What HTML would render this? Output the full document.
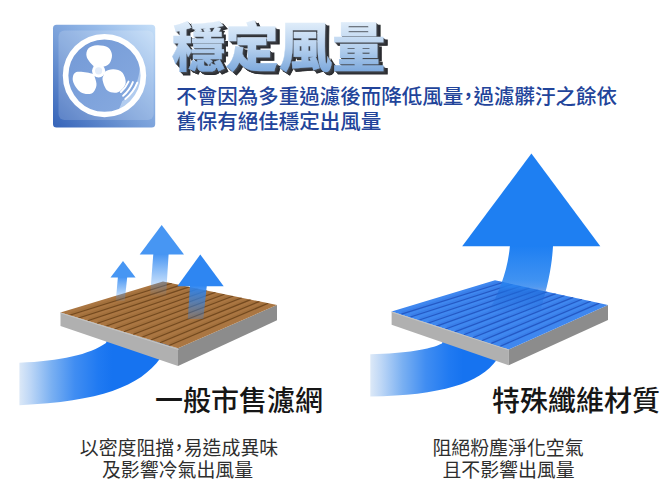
<!DOCTYPE html>
<html lang="zh-Hant">
<head>
<meta charset="utf-8">
<title>穩定風量</title>
<style>
html,body{margin:0;padding:0;background:#fff;}
body{width:670px;height:502px;overflow:hidden;position:relative;font-family:"Liberation Sans","Noto Sans CJK TC",sans-serif;}
svg{position:absolute;left:0;top:0;display:block;}
text{font-family:"Liberation Sans","Noto Sans CJK TC",sans-serif;}
.cm{font-family:"Liberation Sans","Noto Sans CJK JP",sans-serif;font-feature-settings:"halt" 1;}
</style>
</head>
<body>
<svg width="670" height="502" viewBox="0 0 670 502">
<defs>
  <linearGradient id="gIcon" x1="1" y1="0" x2="0" y2="1">
    <stop offset="0" stop-color="#c6dff8"/>
    <stop offset="0.3" stop-color="#96bae9"/>
    <stop offset="0.55" stop-color="#789fd9"/>
    <stop offset="1" stop-color="#3563b8"/>
  </linearGradient>
  <linearGradient id="gIconIn" x1="1" y1="0" x2="0" y2="1">
    <stop offset="0" stop-color="#cbe1f9"/>
    <stop offset="0.3" stop-color="#a5c4ee"/>
    <stop offset="0.6" stop-color="#8aaee3"/>
    <stop offset="1" stop-color="#6a93d6"/>
  </linearGradient>
  <linearGradient id="gDisc" x1="0" y1="0" x2="1" y2="1">
    <stop offset="0" stop-color="#7399d6"/>
    <stop offset="1" stop-color="#88abe0"/>
  </linearGradient>
  <linearGradient id="gTitle" x1="0" y1="0" x2="0" y2="1">
    <stop offset="0" stop-color="#e6f1fb"/>
    <stop offset="0.5" stop-color="#b5d0ee"/>
    <stop offset="1" stop-color="#6f9fd8"/>
  </linearGradient>
  <linearGradient id="gSwL" x1="19" y1="0" x2="112" y2="0" gradientUnits="userSpaceOnUse">
    <stop offset="0" stop-color="#dde9f7"/>
    <stop offset="0.12" stop-color="#bed7f6"/>
    <stop offset="0.35" stop-color="#7ab0f2"/>
    <stop offset="0.6" stop-color="#408df2"/>
    <stop offset="0.85" stop-color="#207af2"/>
    <stop offset="1" stop-color="#1673f0"/>
  </linearGradient>
  <linearGradient id="gSwR" x1="370" y1="0" x2="463" y2="0" gradientUnits="userSpaceOnUse">
    <stop offset="0" stop-color="#dde9f7"/>
    <stop offset="0.12" stop-color="#bed7f6"/>
    <stop offset="0.35" stop-color="#7ab0f2"/>
    <stop offset="0.6" stop-color="#408df2"/>
    <stop offset="0.85" stop-color="#207af2"/>
    <stop offset="1" stop-color="#1673f0"/>
  </linearGradient>
  <linearGradient id="gSh1" x1="0" y1="277" x2="0" y2="301" gradientUnits="userSpaceOnUse">
    <stop offset="0" stop-color="#3d8ff2" stop-opacity="0.95"/>
    <stop offset="0.6" stop-color="#4a98f3" stop-opacity="0.5"/>
    <stop offset="1" stop-color="#4a98f3" stop-opacity="0.08"/>
  </linearGradient>
  <linearGradient id="gSh2" x1="0" y1="254" x2="0" y2="297" gradientUnits="userSpaceOnUse">
    <stop offset="0" stop-color="#3d8ff2" stop-opacity="0.95"/>
    <stop offset="0.6" stop-color="#4a98f3" stop-opacity="0.42"/>
    <stop offset="1" stop-color="#4a98f3" stop-opacity="0"/>
  </linearGradient>
  <linearGradient id="gSh3" x1="0" y1="286" x2="0" y2="320" gradientUnits="userSpaceOnUse">
    <stop offset="0" stop-color="#2a83f0" stop-opacity="0.95"/>
    <stop offset="0.5" stop-color="#2a83f0" stop-opacity="0.6"/>
    <stop offset="1" stop-color="#2a83f0" stop-opacity="0.2"/>
  </linearGradient>
  <linearGradient id="gBig" x1="0" y1="246" x2="0" y2="314" gradientUnits="userSpaceOnUse">
    <stop offset="0" stop-color="#1e7ff2" stop-opacity="1"/>
    <stop offset="0.5" stop-color="#2583f0" stop-opacity="0.88"/>
    <stop offset="0.6" stop-color="#2580ee" stop-opacity="0.8"/>
    <stop offset="0.68" stop-color="#1c6ada" stop-opacity="0.6"/>
    <stop offset="1" stop-color="#1c6ada" stop-opacity="0"/>
  </linearGradient>
  <filter id="blur1" x="-10%" y="-10%" width="120%" height="130%"><feGaussianBlur stdDeviation="0.7"/></filter>
  <clipPath id="clipBrown"><polygon points="60.5,312.5 163,281.5 277,305 178,348.3"/></clipPath>
  <clipPath id="clipBlue"><polygon points="391.6,311.5 495,280.3 608,305 508.7,349.4"/></clipPath>
  <clipPath id="clipDisc"><circle cx="104.5" cy="75.6" r="37"/></clipPath>
</defs>

<rect width="670" height="502" fill="#ffffff"/>

<!-- icon -->
<rect x="53" y="24.8" width="102.2" height="102.6" rx="3.5" fill="url(#gIcon)"/>
<rect x="58.5" y="30.5" width="95.2" height="89.5" rx="6" fill="#ffffff" opacity="0.16"/>
<circle cx="104.5" cy="75.6" r="37" fill="url(#gDisc)"/>
<g clip-path="url(#clipDisc)">
  <path d="M138.7,58 C143,75 133,96 122.3,101 C120,107 118,112 115.7,118 L150,118 L150,50 Z" fill="#bdd4f2" opacity="0.8"/>
</g>
<circle cx="104.5" cy="75.6" r="38.9" fill="none" stroke="#ffffff" stroke-width="5.6"/>
<g fill="#ffffff">
  <path d="M94.9,67.1 C92.4,65.4 87.9,60.3 86.8,57.2 C85.7,54.1 86.6,50.5 88.3,48.5 C90.0,46.5 93.8,45.4 97.1,45.2 C100.4,45.0 105.6,45.8 108.1,47.4 C110.6,49.0 111.8,52.4 112.0,55.1 C112.2,57.8 110.9,61.8 109.2,63.8 C107.5,65.8 104.5,66.5 102.1,67.1 C99.7,67.6 97.5,68.8 94.9,67.1 Z"/>
  <path d="M92.7,73.7 C89.6,72.8 79.6,70.8 76.3,72.1 C73.0,73.4 72.3,77.9 73.0,81.3 C73.7,84.7 77.6,90.3 80.7,92.3 C83.8,94.3 89.0,94.5 91.6,93.4 C94.2,92.3 95.9,88.4 96.4,85.7 C97.0,83.0 95.5,79.4 94.9,77.4 C94.3,75.4 95.8,74.6 92.7,73.7 Z"/>
  <path d="M103.7,74.8 C103.3,76.3 102.0,77.7 102.6,80.3 C103.2,82.9 104.9,88.6 107.4,90.6 C110.0,92.6 114.9,93.5 117.9,92.3 C120.9,91.1 124.9,86.8 125.6,83.5 C126.3,80.2 124.3,75.0 122.3,72.6 C120.3,70.2 116.3,69.5 113.5,69.3 C110.7,69.1 106.8,70.6 105.2,71.5 C103.6,72.4 104.1,73.3 103.7,74.8 Z"/>
  <circle cx="98.6" cy="70.8" r="6.6"/>
  <circle cx="98.6" cy="70.8" r="3.6" fill="#e3ecf9"/>
</g>
<g fill="none" stroke="#ffffff" stroke-width="1.9" stroke-linecap="round">
  <path d="M128.5,81.6 A31.3,31.3 0 0 1 120.9,92"/>
  <path d="M132.9,82.1 A35.5,35.5 0 0 1 123.1,95.8"/>
  <path d="M137.3,82.7 A39.7,39.7 0 0 1 125.3,99.1"/>
</g>

<!-- title -->
<g font-weight="900" font-size="53">
  <text x="175.8" y="70.3" fill="#2a2c30" stroke="#2a2c30" stroke-width="0.9" filter="url(#blur1)" textLength="213.5" lengthAdjust="spacingAndGlyphs">穩定風量</text>
  <text x="175" y="69.5" fill="#2e3034" textLength="213.5" lengthAdjust="spacingAndGlyphs">穩定風量</text>
  <text x="174" y="68.5" fill="#373a40" textLength="213.5" lengthAdjust="spacingAndGlyphs">穩定風量</text>
  <text x="173" y="67.5" fill="#454a52" textLength="213.5" lengthAdjust="spacingAndGlyphs">穩定風量</text>
  <text x="172" y="66.5" fill="url(#gTitle)" stroke="url(#gTitle)" stroke-width="0.3" textLength="213.5" lengthAdjust="spacingAndGlyphs">穩定風量</text>
</g>

<!-- subtitle -->
<g font-weight="500" font-size="20.5" fill="#22449a">
  <text x="176.2" y="103.5">不會因為多重過濾後而降低風量<tspan class="cm">，</tspan>過濾髒汙之餘依</text>
  <text x="176.2" y="129">舊保有絕佳穩定出風量</text>
</g>

<!-- LEFT graphic -->
<path d="M19.4,362.7 C60,361.2 90,354.5 106,343 L110,330 L170,345 L160.5,358 C140,386.5 100,401.5 19.4,405.2 Z" fill="url(#gSwL)"/>
<!-- brown plate -->
<polygon points="60.5,312.5 178,348.3 178,366 60.5,325.9" fill="#b0b0b0"/>
<polygon points="178,348.3 277,305 277,320.3 178,366" fill="#8c8c8c"/>
<polygon points="60.5,312.5 163,281.5 277,305 178,348.3" fill="#aa7642"/>
<g clip-path="url(#clipBrown)" stroke="#73491f" stroke-width="1.2">
  <line x1="69.5" y1="315.3" x2="171.8" y2="283.3" stroke="#8a5a2a" stroke-width="3" stroke-opacity="0.22" transform="translate(1.3,-1.3)"/>
  <line x1="69.5" y1="315.3" x2="171.8" y2="283.3"/>
  <line x1="78.6" y1="318.0" x2="180.5" y2="285.1" stroke="#8a5a2a" stroke-width="3" stroke-opacity="0.22" transform="translate(1.3,-1.3)"/>
  <line x1="78.6" y1="318.0" x2="180.5" y2="285.1"/>
  <line x1="87.6" y1="320.8" x2="189.3" y2="286.9" stroke="#8a5a2a" stroke-width="3" stroke-opacity="0.22" transform="translate(1.3,-1.3)"/>
  <line x1="87.6" y1="320.8" x2="189.3" y2="286.9"/>
  <line x1="96.7" y1="323.5" x2="198.1" y2="288.7" stroke="#8a5a2a" stroke-width="3" stroke-opacity="0.22" transform="translate(1.3,-1.3)"/>
  <line x1="96.7" y1="323.5" x2="198.1" y2="288.7"/>
  <line x1="105.7" y1="326.3" x2="206.8" y2="290.5" stroke="#8a5a2a" stroke-width="3" stroke-opacity="0.22" transform="translate(1.3,-1.3)"/>
  <line x1="105.7" y1="326.3" x2="206.8" y2="290.5"/>
  <line x1="114.7" y1="329.0" x2="215.6" y2="292.3" stroke="#8a5a2a" stroke-width="3" stroke-opacity="0.22" transform="translate(1.3,-1.3)"/>
  <line x1="114.7" y1="329.0" x2="215.6" y2="292.3"/>
  <line x1="123.8" y1="331.8" x2="224.4" y2="294.2" stroke="#8a5a2a" stroke-width="3" stroke-opacity="0.22" transform="translate(1.3,-1.3)"/>
  <line x1="123.8" y1="331.8" x2="224.4" y2="294.2"/>
  <line x1="132.8" y1="334.5" x2="233.2" y2="296.0" stroke="#8a5a2a" stroke-width="3" stroke-opacity="0.22" transform="translate(1.3,-1.3)"/>
  <line x1="132.8" y1="334.5" x2="233.2" y2="296.0"/>
  <line x1="141.8" y1="337.3" x2="241.9" y2="297.8" stroke="#8a5a2a" stroke-width="3" stroke-opacity="0.22" transform="translate(1.3,-1.3)"/>
  <line x1="141.8" y1="337.3" x2="241.9" y2="297.8"/>
  <line x1="150.9" y1="340.0" x2="250.7" y2="299.6" stroke="#8a5a2a" stroke-width="3" stroke-opacity="0.22" transform="translate(1.3,-1.3)"/>
  <line x1="150.9" y1="340.0" x2="250.7" y2="299.6"/>
  <line x1="159.9" y1="342.8" x2="259.5" y2="301.4" stroke="#8a5a2a" stroke-width="3" stroke-opacity="0.22" transform="translate(1.3,-1.3)"/>
  <line x1="159.9" y1="342.8" x2="259.5" y2="301.4"/>
  <line x1="169.0" y1="345.5" x2="268.2" y2="303.2" stroke="#8a5a2a" stroke-width="3" stroke-opacity="0.22" transform="translate(1.3,-1.3)"/>
  <line x1="169.0" y1="345.5" x2="268.2" y2="303.2"/>
</g>
<line x1="60.5" y1="313" x2="178.5" y2="349.5" stroke="#c4c4c4" stroke-width="1"/>
<!-- small arrows -->
<polygon points="117.9,277 127.2,277 124.7,301 115.8,301" fill="url(#gSh1)"/>
<polygon points="123,261 110.5,277.5 135.6,277.5" fill="#4796f3"/>
<polygon points="153.3,254 168.6,254 166,297 150,297" fill="url(#gSh2)"/>
<polygon points="161.7,225 139.7,254.5 184,254.5" fill="#4796f3"/>
<polygon points="190,285.7 206.8,285.7 203.3,319 187.8,319" fill="url(#gSh3)"/>
<polygon points="200.3,254.5 177.3,286.2 223.7,286.2" fill="#2e86f2"/>

<!-- RIGHT graphic -->
<path d="M370.3,354.3 C406,353.3 430,349.5 442,343.5 L446,330 L506,345 L497,359.5 C480,383.5 441,395.3 370.3,396.6 Z" fill="url(#gSwR)"/>
<polygon points="391.6,311.5 508.7,349.4 508.7,365.2 391.6,324.7" fill="#b0b0b0"/>
<polygon points="508.7,349.4 608,305 608,320 508.7,365.2" fill="#8c8c8c"/>
<polygon points="391.6,311.5 495,280.3 608,305 508.7,349.4" fill="#3f87ef"/>
<g clip-path="url(#clipBlue)" stroke="#2459c4" stroke-width="1.2">
  <line x1="400.6" y1="314.4" x2="503.7" y2="282.2" stroke="#2a66d4" stroke-width="3" stroke-opacity="0.22" transform="translate(1.3,-1.3)"/>
  <line x1="400.6" y1="314.4" x2="503.7" y2="282.2"/>
  <line x1="409.6" y1="317.3" x2="512.4" y2="284.1" stroke="#2a66d4" stroke-width="3" stroke-opacity="0.22" transform="translate(1.3,-1.3)"/>
  <line x1="409.6" y1="317.3" x2="512.4" y2="284.1"/>
  <line x1="418.6" y1="320.2" x2="521.1" y2="286.0" stroke="#2a66d4" stroke-width="3" stroke-opacity="0.22" transform="translate(1.3,-1.3)"/>
  <line x1="418.6" y1="320.2" x2="521.1" y2="286.0"/>
  <line x1="427.6" y1="323.2" x2="529.8" y2="287.9" stroke="#2a66d4" stroke-width="3" stroke-opacity="0.22" transform="translate(1.3,-1.3)"/>
  <line x1="427.6" y1="323.2" x2="529.8" y2="287.9"/>
  <line x1="436.6" y1="326.1" x2="538.5" y2="289.8" stroke="#2a66d4" stroke-width="3" stroke-opacity="0.22" transform="translate(1.3,-1.3)"/>
  <line x1="436.6" y1="326.1" x2="538.5" y2="289.8"/>
  <line x1="445.6" y1="329.0" x2="547.2" y2="291.7" stroke="#2a66d4" stroke-width="3" stroke-opacity="0.22" transform="translate(1.3,-1.3)"/>
  <line x1="445.6" y1="329.0" x2="547.2" y2="291.7"/>
  <line x1="454.7" y1="331.9" x2="555.8" y2="293.6" stroke="#2a66d4" stroke-width="3" stroke-opacity="0.22" transform="translate(1.3,-1.3)"/>
  <line x1="454.7" y1="331.9" x2="555.8" y2="293.6"/>
  <line x1="463.7" y1="334.8" x2="564.5" y2="295.5" stroke="#2a66d4" stroke-width="3" stroke-opacity="0.22" transform="translate(1.3,-1.3)"/>
  <line x1="463.7" y1="334.8" x2="564.5" y2="295.5"/>
  <line x1="472.7" y1="337.7" x2="573.2" y2="297.4" stroke="#2a66d4" stroke-width="3" stroke-opacity="0.22" transform="translate(1.3,-1.3)"/>
  <line x1="472.7" y1="337.7" x2="573.2" y2="297.4"/>
  <line x1="481.7" y1="340.7" x2="581.9" y2="299.3" stroke="#2a66d4" stroke-width="3" stroke-opacity="0.22" transform="translate(1.3,-1.3)"/>
  <line x1="481.7" y1="340.7" x2="581.9" y2="299.3"/>
  <line x1="490.7" y1="343.6" x2="590.6" y2="301.2" stroke="#2a66d4" stroke-width="3" stroke-opacity="0.22" transform="translate(1.3,-1.3)"/>
  <line x1="490.7" y1="343.6" x2="590.6" y2="301.2"/>
  <line x1="499.7" y1="346.5" x2="599.3" y2="303.1" stroke="#2a66d4" stroke-width="3" stroke-opacity="0.22" transform="translate(1.3,-1.3)"/>
  <line x1="499.7" y1="346.5" x2="599.3" y2="303.1"/>
</g>
<line x1="391.6" y1="312" x2="508.7" y2="349.9" stroke="#c4c4c4" stroke-width="1"/>
<!-- big arrow -->
<path d="M509.9,246 L553,246 C552,264 549,282 540,312 L488,312 C500,292 508,268 509.9,246 Z" fill="url(#gBig)"/>
<polygon points="531.4,153.6 462.2,246.3 600.3,246.3" fill="#1e7ff2"/>

<!-- labels -->
<g font-weight="500" font-size="28" fill="#161616">
  <text x="155" y="410.5">一般市售濾網</text>
  <text x="492" y="410.5">特殊纖維材質</text>
</g>
<g font-weight="400" font-size="18.9" fill="#2e2e2e">
  <text x="79.8" y="454.8">以密度阻擋<tspan class="cm">，</tspan>易造成異味</text>
  <text x="177.5" y="477.1" text-anchor="middle">及影響冷氣出風量</text>
  <text x="508" y="454.8" text-anchor="middle">阻絕粉塵淨化空氣</text>
  <text x="508.5" y="477.1" text-anchor="middle">且不影響出風量</text>
</g>
</svg>
</body>
</html>
